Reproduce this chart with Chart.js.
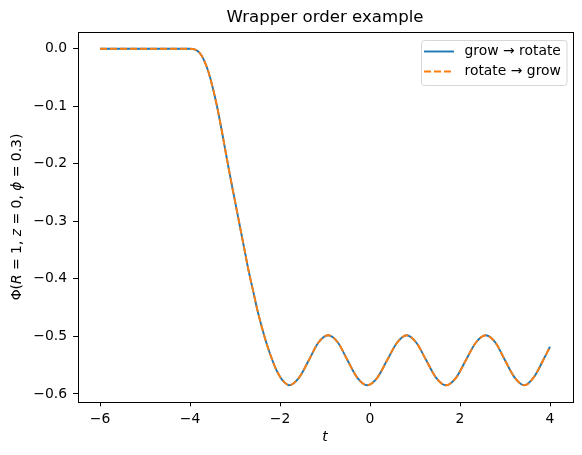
<!DOCTYPE html>
<html>
<head>
<meta charset="utf-8">
<script src="https://cdn.jsdelivr.net/npm/chart.js@4.4.0/dist/chart.umd.min.js"></script>
<style>
  html,body{margin:0;padding:0;background:#fff;}
  #wrap{width:582px;height:455px;position:relative;}
</style>
</head>
<body>
<div id="wrap"><canvas id="c" width="582" height="455"></canvas></div>
<script>
// Wrapper order example — both wrapper orders give the same potential curve.
// Values (t, Phi).
const T_VALUES = [-6, -5, -4.3, -4.0, -3.9, -3.8, -3.7, -3.6, -3.5, -3.4, -3.3, -3.2, -3.1, -3.0,
  -2.9, -2.8, -2.7, -2.6, -2.5, -2.4, -2.3, -2.2, -2.1, -2.0, -1.9, -1.8,
  -1.58, -1.36, -1.15, -0.93, -0.71, -0.50, -0.28, -0.06,
  0.16, 0.38, 0.60, 0.815, 1.03, 1.25, 1.47, 1.69,
  1.91, 2.13, 2.35, 2.57, 2.79, 3.0, 3.22, 3.43, 3.65, 3.87, 4.0];
const PHI_VALUES = [0, 0, 0, 0, -0.001, -0.006, -0.018, -0.038, -0.066, -0.100, -0.140, -0.183, -0.225, -0.265,
  -0.305, -0.345, -0.385, -0.420, -0.455, -0.485, -0.512, -0.535, -0.555, -0.570, -0.580, -0.585,
  -0.572, -0.5415, -0.511, -0.498, -0.511, -0.5415, -0.572, -0.585,
  -0.572, -0.5415, -0.511, -0.498, -0.511, -0.5415, -0.572, -0.585,
  -0.572, -0.5415, -0.511, -0.498, -0.511, -0.5415, -0.572, -0.585, -0.570, -0.538, -0.518];
const SERIES_LABELS = ['grow \u2192 rotate', 'rotate \u2192 grow'];
const X_TICKS = [-6, -4, -2, 0, 2, 4];
const Y_TICKS = [-0.6, -0.5, -0.4, -0.3, -0.2, -0.1, 0.0];

const FONT = '"DejaVu Sans", sans-serif';
const FS = 13.9;
const BLUE = '#1f77b4', ORANGE = '#ff7f0e';
function pts(){ return T_VALUES.map((t,i)=>({x:t, y:PHI_VALUES[i]})); }
function minus(s){ return s.replace('-', '\u2212'); }

// frame, title, axis labels, legend (matplotlib look)
const decor = {
  id:'decor',
  afterDraw(chart){
    const ctx=chart.ctx, a=chart.chartArea;
    ctx.save();
    ctx.strokeStyle='#000'; ctx.lineWidth=1;
    ctx.strokeRect(Math.round(a.left)+0.5, Math.round(a.top)+0.5, Math.round(a.right-a.left), Math.round(a.bottom-a.top));
    const cx=(a.left+a.right)/2;
    ctx.fillStyle='#000';
    ctx.textAlign='center'; ctx.textBaseline='middle';
    ctx.font='16.6px '+FONT;
    ctx.fillText('Wrapper order example', cx, 18);
    ctx.font='italic '+FS+'px '+FONT;
    ctx.fillText('t', cx, 437);
    // y label with italic symbols
    const parts=[['\u03a6(',0],['R',1],[' = 1, ',0],['z',1],[' = 0, ',0],['\u03d5',1],[' = 0.3)',0]];
    ctx.translate(17,(a.top+a.bottom)/2); ctx.rotate(-Math.PI/2);
    let w=0; const ws=[];
    parts.forEach(p=>{ctx.font=(p[1]?'italic ':'')+FS+'px '+FONT; const m=ctx.measureText(p[0]).width; ws.push(m); w+=m;});
    let x=-w/2; ctx.textAlign='left';
    parts.forEach((p,i)=>{ctx.font=(p[1]?'italic ':'')+FS+'px '+FONT; ctx.fillText(p[0],x,0); x+=ws[i];});
    ctx.restore();
    // legend
    ctx.save();
    const L=421, T=40, R=566.5, B=85;
    ctx.beginPath();
    ctx.roundRect(L+0.5,T+0.5,R-L,B-T,3);
    ctx.fillStyle='rgba(255,255,255,0.8)'; ctx.fill();
    ctx.strokeStyle='#d6d6d6'; ctx.lineWidth=1; ctx.stroke();
    const rows=[[BLUE,[],51.5],[ORANGE,[7,3],71.5]];
    rows.forEach((r,i)=>{
      ctx.beginPath(); ctx.setLineDash(r[1]); ctx.strokeStyle=r[0]; ctx.lineWidth=1.9;
      ctx.moveTo(424,r[2]); ctx.lineTo(454,r[2]); ctx.stroke();
      ctx.setLineDash([]);
      ctx.fillStyle='#000'; ctx.font=FS+'px '+FONT; ctx.textAlign='left'; ctx.textBaseline='middle';
      ctx.fillText(SERIES_LABELS[i], 464.5, r[2]);
    });
    ctx.restore();
  }
};

const tickGrid = {display:true, drawOnChartArea:false, drawTicks:true, tickLength:4.4, color:'#000', tickColor:'#000', tickWidth:1};

new Chart(document.getElementById('c'), {
  type:'line',
  data:{datasets:[
    // order: lower value is drawn on top, so the dashed orange sits over the blue line
    {label:SERIES_LABELS[0], order:2, data:pts(), borderColor:BLUE, borderWidth:1.9, pointRadius:0, cubicInterpolationMode:'monotone', fill:false},
    {label:SERIES_LABELS[1], order:1, data:pts(), borderColor:ORANGE, borderWidth:1.9, borderDash:[7,3], pointRadius:0, cubicInterpolationMode:'monotone', fill:false}
  ]},
  options:{
    responsive:false, animation:false, devicePixelRatio:1,
    layout:{padding:{top:32, right:9.5, bottom:0, left:0}},
    plugins:{legend:{display:false}, tooltip:{enabled:false}, title:{display:false}},
    scales:{
      x:{type:'linear', min:-6.5, max:4.5,
        afterBuildTicks(s){ s.ticks = X_TICKS.map(v=>({value:v})); },
        afterFit(s){ s.height = 53; },
        grid:tickGrid, border:{display:false},
        ticks:{color:'#000', font:{family:FONT, size:FS}, padding:5, maxRotation:0, callback:v=>minus(String(v))}},
      y:{type:'linear', min:-0.614, max:0.029,
        afterBuildTicks(s){ s.ticks = Y_TICKS.map(v=>({value:v})); },
        afterFit(s){ s.width = 77.5; },
        grid:tickGrid, border:{display:false},
        ticks:{color:'#000', font:{family:FONT, size:FS}, padding:6, callback:v=>minus(Math.abs(v)<1e-9?'0.0':v.toFixed(1))}}
    }
  },
  plugins:[decor]
});
</script>
</body>
</html>
